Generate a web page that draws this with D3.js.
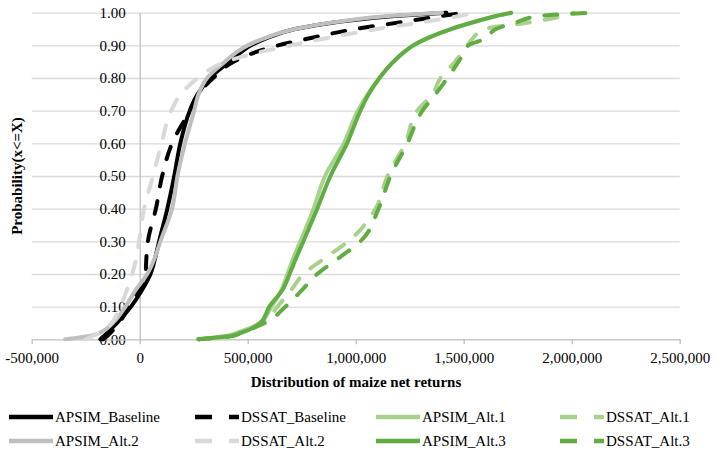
<!DOCTYPE html>
<html>
<head>
<meta charset="utf-8">
<script src="https://cdn.jsdelivr.net/npm/d3@7/dist/d3.min.js"></script>
<style>
  html, body { margin: 0; padding: 0; background: #fff; }
</style>
</head>
<body>
<svg id="chart" width="716" height="454"></svg>
<script>
// ---- data ----
const probs = [0, 0.01, 0.02, 0.05, 0.10, 0.15, 0.20, 0.25, 0.30, 0.40, 0.50, 0.60, 0.70, 0.75, 0.80, 0.85, 0.88, 0.90, 0.92, 0.95, 0.97, 0.99, 1.00];

const apsimBaseline = [-182000, -165000, -150000, -105000, -40000, 10000, 50000, 72000, 90000, 128000, 160000, 188000, 232000, 268000, 325000, 415000, 470000, 515000, 580000, 720000, 900000, 1180000, 1420000];
const dssatBaseline = [-170000, -150000, -135000, -95000, -52000, -5000, 27000, 31000, 38000, 75000, 104000, 150000, 232000, 270000, 340000, 435000, 540000, 640000, 775000, 1000000, 1200000, 1400000, 1500000];
const apsimAlt1 = [272000, 400000, 450000, 555000, 610000, 655000, 684000, 712000, 744000, 805000, 858000, 945000, 1010000, 1055000, 1110000, 1175000, 1225000, 1265000, 1325000, 1440000, 1540000, 1650000, 1720000];
const dssatAlt1 = [272000, 410000, 460000, 570000, 637000, 700000, 758000, 860000, 966000, 1092000, 1147000, 1230000, 1285000, 1355000, 1392000, 1460000, 1495000, 1517000, 1540000, 1600000, 1800000, 1960000, 2008000];
const apsimAlt2 = [-345000, -230000, -185000, -125000, -66000, -20000, 35000, 70000, 96000, 150000, 175000, 210000, 252000, 272000, 312000, 395000, 450000, 500000, 570000, 720000, 890000, 1150000, 1400000];
const dssatAlt2 = [-250000, -215000, -185000, -130000, -90000, -60000, -35000, -15000, -3000, 20000, 62000, 101000, 146000, 190000, 270000, 400000, 560000, 700000, 850000, 1100000, 1300000, 1480000, 1560000];
const apsimAlt3 = [272000, 420000, 470000, 559000, 600000, 660000, 694000, 725000, 758000, 822000, 883000, 960000, 1022000, 1060000, 1110000, 1175000, 1225000, 1267000, 1325000, 1442000, 1540000, 1650000, 1720000];
const dssatAlt3 = [272000, 430000, 470000, 580000, 675000, 750000, 822000, 924000, 1022000, 1106000, 1161000, 1239000, 1309000, 1369000, 1425000, 1476000, 1505000, 1522000, 1600000, 1650000, 1740000, 1850000, 2100000];

const seriesNames = ["APSIM_Baseline", "DSSAT_Baseline", "APSIM_Alt.1", "DSSAT_Alt.1", "APSIM_Alt.2", "DSSAT_Alt.2", "APSIM_Alt.3", "DSSAT_Alt.3"];
const seriesValues = [apsimBaseline, dssatBaseline, apsimAlt1, dssatAlt1, apsimAlt2, dssatAlt2, apsimAlt3, dssatAlt3];
const seriesColors = ["#000000", "#000000", "#a9d18e", "#a9d18e", "#bfbfbf", "#d9d9d9", "#5fad43", "#5fad43"];
const seriesDashed = [false, true, false, true, false, true, false, true];

const xTicks = [-500000, 0, 500000, 1000000, 1500000, 2000000, 2500000];
const yTicks = [0, 0.1, 0.2, 0.3, 0.4, 0.5, 0.6, 0.7, 0.8, 0.9, 1.0];
const xTitle = "Distribution of maize net returns";
const yTitle = "Probability(x<=X)";

// ---- drawing ----
const FONT = "'Liberation Serif', serif";
const svg = d3.select("#chart");
const x = d3.scaleLinear().domain([-500000, 2500000]).range([31.7, 679.7]);
const y = d3.scaleLinear().domain([0, 1]).range([339.3, 12.7]);
const fmtX = v => d3.format(",")(v).replace("\u2212", "-");

// gridlines
svg.append("g")
  .attr("transform", `translate(${x(-500000)},0)`)
  .call(d3.axisLeft(y).tickValues(yTicks.slice(1)).tickSize(-(x(2500000) - x(-500000))).tickFormat(""))
  .call(g => g.select(".domain").remove())
  .call(g => g.selectAll("line").attr("stroke", "#d9d9d9").attr("stroke-width", 1.3));

// y axis at x = 0
const yAxis = svg.append("g")
  .attr("transform", `translate(${x(0)},0)`)
  .call(d3.axisLeft(y).tickValues(yTicks).tickSize(0).tickPadding(14).tickFormat(d3.format(".2f")));
yAxis.attr("font-family", FONT).attr("font-size", 15);
yAxis.select(".domain").attr("stroke", "#bfbfbf").attr("stroke-width", 1.3);
yAxis.selectAll("text").attr("font-family", FONT).attr("font-size", 15).attr("fill", "#000");

// x axis at y = 0
const xAxis = svg.append("g")
  .attr("transform", `translate(0,${y(0)})`)
  .call(d3.axisBottom(x).tickValues(xTicks).tickSize(5).tickSizeOuter(0).tickPadding(8).tickFormat(fmtX));
xAxis.attr("font-family", FONT).attr("font-size", 15);
xAxis.select(".domain").attr("stroke", "#bfbfbf").attr("stroke-width", 1.3);
xAxis.selectAll("line").attr("stroke", "#bfbfbf").attr("stroke-width", 1.3);
xAxis.selectAll("text").attr("font-family", FONT).attr("font-size", 15).attr("fill", "#000");

// axis titles
svg.append("text")
  .attr("x", 356).attr("y", 387)
  .attr("text-anchor", "middle")
  .attr("font-family", FONT)
  .attr("font-size", 15).attr("font-weight", "bold")
  .text(xTitle);
svg.append("text")
  .attr("transform", `translate(22,${(y(0) + y(1)) / 2}) rotate(-90)`)
  .attr("text-anchor", "middle")
  .attr("font-family", FONT)
  .attr("font-size", 15).attr("font-weight", "bold")
  .text(yTitle);

// lines
const line = d3.line().x(d => x(d[0])).y(d => y(d[1])).curve(d3.curveMonotoneY);
const plot = svg.append("g");
seriesValues.forEach((vals, i) => {
  plot.append("path")
    .datum(vals.map((v, j) => [v, probs[j]]))
    .attr("d", line)
    .attr("fill", "none")
    .attr("stroke", seriesColors[i])
    .attr("stroke-width", 4)
    .attr("stroke-linejoin", "round")
    .attr("stroke-linecap", "round")
    .attr("stroke-dasharray", seriesDashed[i] ? "13,15" : null);
});

// legend
const colX = [9, 195, 376, 560];
const rowY = [417, 441];
const legend = svg.append("g");
seriesNames.forEach((name, i) => {
  const cx = colX[i % 4], cy = rowY[Math.floor(i / 4)];
  legend.append("line")
    .attr("x1", cx).attr("x2", cx + 44).attr("y1", cy).attr("y2", cy)
    .attr("stroke", seriesColors[i]).attr("stroke-width", 4.5)
    .attr("stroke-dasharray", seriesDashed[i] ? "17,17" : null);
  legend.append("text")
    .attr("x", cx + 46).attr("y", cy + 5)
    .attr("font-family", FONT)
    .attr("font-size", 15)
    .text(name);
});
</script>
</body>
</html>
